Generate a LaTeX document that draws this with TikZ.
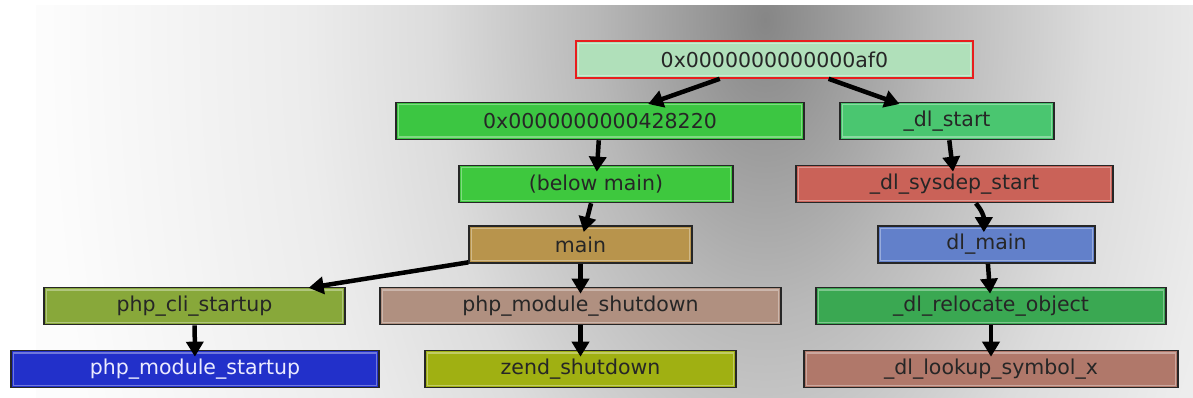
\documentclass[tikz,border=0pt]{standalone}
\usepackage{fontspec}
\setmainfont{DejaVu Sans}
\usepackage{tikz}
\usetikzlibrary{arrows.meta}
\definecolor{bgA}{RGB}{134,134,134}
\definecolor{bgB}{RGB}{184,184,184}
\definecolor{bgC}{RGB}{220,220,220}
\definecolor{bgD}{RGB}{236,236,236}
\definecolor{bgE}{RGB}{252,252,252}
\definecolor{cRoot}{RGB}{176,224,186}
\definecolor{cRootLine}{RGB}{232,30,30}
\definecolor{cAddr}{RGB}{60,198,66}
\definecolor{cDlStart}{RGB}{74,198,112}
\definecolor{cBelow}{RGB}{62,200,62}
\definecolor{cSysdep}{RGB}{202,98,88}
\definecolor{cMain}{RGB}{184,148,76}
\definecolor{cDlMain}{RGB}{98,128,202}
\definecolor{cCli}{RGB}{136,168,58}
\definecolor{cModShut}{RGB}{176,144,128}
\definecolor{cReloc}{RGB}{58,168,82}
\definecolor{cModStart}{RGB}{34,48,202}
\definecolor{cZend}{RGB}{160,176,18}
\definecolor{cLookup}{RGB}{176,120,106}
% middle 50bp square of the shading is fitted to the path
\pgfdeclareradialshading{bgspot}{\pgfpointorigin}{%
  color(0bp)=(bgA); color(5.3bp)=(bgB); color(10.3bp)=(bgC);
  color(14.4bp)=(bgD); color(22.5bp)=(bgE); color(50bp)=(bgE)}
\tikzset{
  fn/.style   ={draw=black!85, line width=1.6pt, minimum height=37pt, inner sep=0pt,
                text=black!85, font=\fontsize{20.5}{24}\selectfont,
                path picture={\draw[white, opacity=0.35, line width=1.4pt]
                  ([shift={(2.3pt,2.3pt)}]path picture bounding box.south west) rectangle
                  ([shift={(-2.3pt,-2.3pt)}]path picture bounding box.north east);}},
  rootfn/.style={fn, draw=cRootLine, fill=cRoot},
  call/.style ={-{Triangle[length=15pt, width=17pt]}, line width=4.5pt, black, shorten >=-7pt},
}

\begin{document}
\begin{tikzpicture}[x=1pt, y=-1pt]
  \useasboundingbox (0,0) rectangle (1193,398);
  % backdrop
  \begin{scope}
    \clip (36,6) rectangle (1193,398);
    \shade[shading=bgspot] (765,20) ellipse (800 and 1360);
  \end{scope}

  \node[rootfn,             minimum width=397pt]       (af0)    at (774.5,59.5) {0x0000000000000af0};
  \node[fn, fill=cAddr,     minimum width=408pt]       (addr)   at (600,121)    {0x0000000000428220};
  \node[fn, fill=cDlStart,  minimum width=214pt]       (dlst)   at (947,121)    {\_dl\_start};
  \node[fn, fill=cBelow,    minimum width=274pt]       (below)  at (596,184)    {(below main)};
  \node[fn, fill=cSysdep,   minimum width=317pt]       (sysdep) at (954.5,184)  {\_dl\_sysdep\_start};
  \node[fn, fill=cMain,     minimum width=223pt]       (main)   at (580.5,244.5){main};
  \node[fn, fill=cDlMain,   minimum width=217pt]       (dlmain) at (986.5,244.5){dl\_main};
  \node[fn, fill=cCli,      minimum width=301pt]       (cli)    at (194.5,306)  {php\_cli\_startup};
  \node[fn, fill=cModShut,  minimum width=401pt]       (mshut)  at (580.5,306)  {php\_module\_shutdown};
  \node[fn, fill=cReloc,    minimum width=350pt]       (reloc)  at (991,306)    {\_dl\_relocate\_object};
  \node[fn, fill=cModStart, minimum width=368pt, text=blue!8] (mstart) at (195,369) {php\_module\_startup};
  \node[fn, fill=cZend,     minimum width=311pt]       (zend)   at (580.5,369)  {zend\_shutdown};
  \node[fn, fill=cLookup,   minimum width=374pt]       (lookup) at (991,369)    {\_dl\_lookup\_symbol\_x};

  \draw[call] (af0) -- (addr);
  \draw[call] (af0) -- (dlst);
  \draw[call] (addr) -- (below);
  \draw[call] (below) -- (main);
  \draw[call] (main) -- (cli);
  \draw[call] (main) -- (mshut);
  \draw[call] (mshut) -- (zend);
  \draw[call] (cli) -- (mstart);
  \draw[call] (dlst) -- (sysdep);
  \draw[call] (sysdep) to[bend left=20] (dlmain);
  \draw[call] (dlmain) -- (reloc);
  \draw[call] (reloc) -- (lookup);
\end{tikzpicture}
\end{document}
